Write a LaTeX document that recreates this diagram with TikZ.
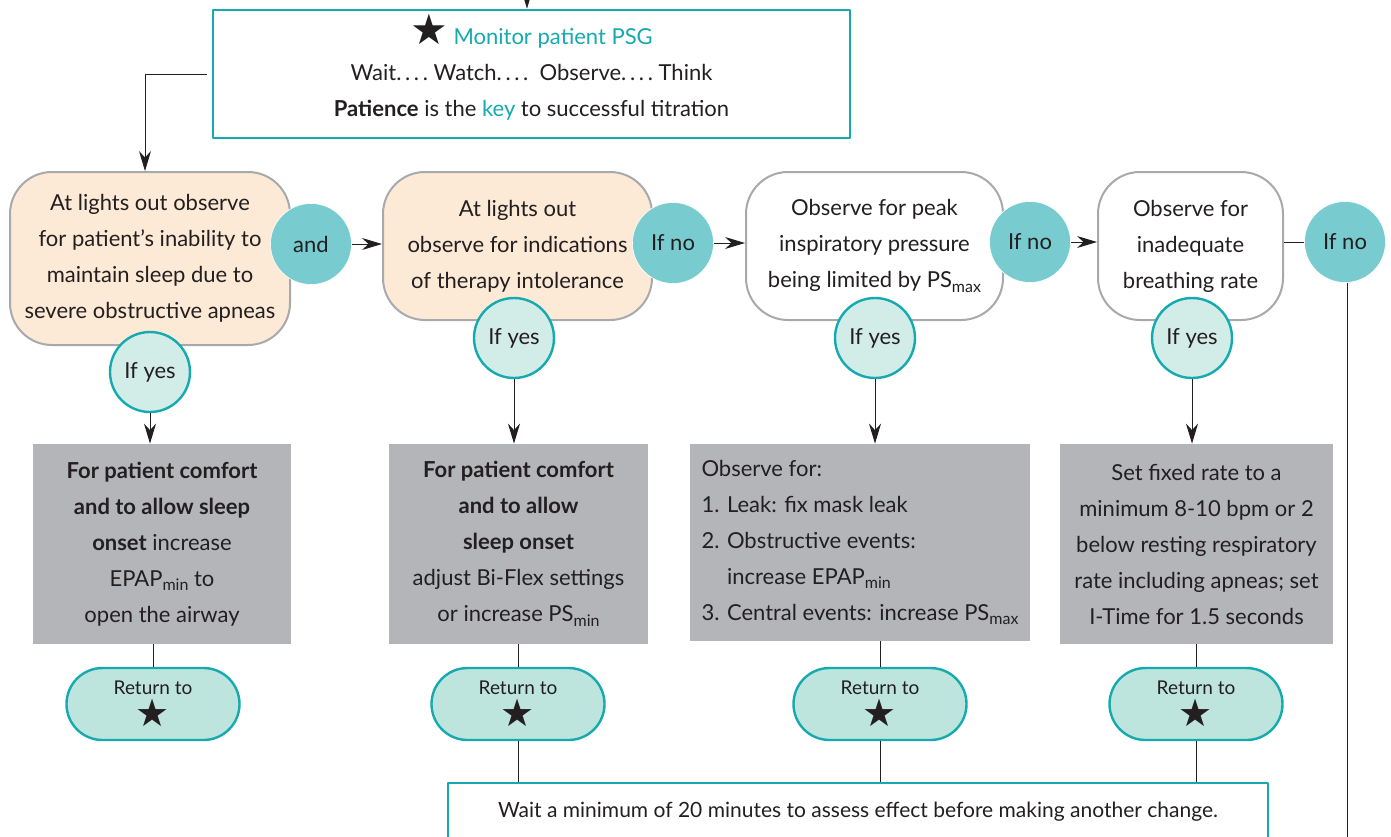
\documentclass[tikz,border=0pt]{standalone}
\usepackage{fontspec}
\setmainfont{Lato}
\newfontfamily\symfont{DejaVu Sans}
\usetikzlibrary{arrows.meta}
\definecolor{ink}{RGB}{35,31,32}
\definecolor{tealline}{RGB}{20,170,176}
\definecolor{tealfill}{RGB}{120,203,207}
\definecolor{yesfill}{RGB}{210,236,231}
\definecolor{pillfill}{RGB}{189,228,221}
\definecolor{peach}{RGB}{253,234,214}
\definecolor{boxgray}{RGB}{180,181,185}
\definecolor{edgegray}{RGB}{168,169,173}
\newcommand\lowsub[1]{\raisebox{-0.4ex}{\fontsize{8}{8}\selectfont #1}}
\newcommand\starsym[1]{{\fontsize{#1}{#1}\selectfont\symfont ★}}
\begin{document}
\begin{tikzpicture}[x=0.5pt,y=-0.5pt, line join=round, >={Stealth[length=10pt,width=6pt]}]
	\tikzset{txt/.style={font=\fontsize{11}{18}\selectfont, text=ink, align=center, inner sep=0pt},
		askbox/.style={txt, draw=edgegray, line width=1pt, rounded corners=21pt, minimum height=74pt},
		actbox/.style={txt, fill=boxgray, minimum height=100pt},
		nobubble/.style={txt, circle, fill=tealfill, draw=white, line width=0.3pt, minimum size=40.5pt},
		yesbubble/.style={txt, circle, fill=yesfill, draw=tealline, line width=1.2pt, minimum size=40pt},
		returnpill/.style={txt, font=\fontsize{9.5}{16}\selectfont, fill=pillfill, draw=tealline, line width=1.2pt, rounded corners=18pt, minimum width=86.5pt, minimum height=36pt},
		notebox/.style={txt, draw=tealline, line width=1.3pt},
		link/.style={ink, line width=0.5pt}}
	\clip (0,0) rectangle (1391,836);
	% top box
	\node[notebox, minimum width=318.5pt, minimum height=64pt] (monitor) at (531.5,74)
		{\smash{\starsym{21}}\ \textcolor{tealline}{Monitor patient PSG}\\
		Wait.\,.\,.\,.\ Watch.\,.\,.\,.\ \ Observe.\,.\,.\,.\ Think\\
		\textbf{Patience} is the \textcolor{tealline}{key} to successful titration};
	\coordinate (entry) at (527,-20);
	\draw[link,->] (entry) -- (monitor.north -| entry);
	% questions
	\node[askbox, fill=peach, minimum width=140pt, minimum height=86.5pt] (ask1) at (150,258.5)
		{At lights out observe\\ for patient’s inability to\\ maintain sleep due to\\ severe obstructive apneas};
	\node[askbox, fill=peach, minimum width=134.5pt] (ask2) at (517.5,246)
		{At lights out\\ observe for indications\\ of therapy intolerance};
	\node[askbox, fill=white, minimum width=128.5pt] (ask3) at (874.5,246)
		{Observe for peak\\ inspiratory pressure\\ being limited by PS\lowsub{max}};
	\node[askbox, fill=white, minimum width=92.5pt] (ask4) at (1190.5,246)
		{Observe for\\ inadequate\\ breathing rate};
	\draw[link,->] ([xshift=-2.5pt]monitor.west) -| ([xshift=-2.5pt]ask1.north);
	% branches
	\node[nobubble] (and) at (311,244) {and};
	\node[nobubble] (no1) at (673,243) {If no};
	\node[nobubble] (no2) at (1030,242) {If no};
	\node[nobubble] (no3) at (1345,242) {If no};
	\node[yesbubble] (yes1) at (150,372) {If yes};
	\node[yesbubble] (yes2) at (514,338) {If yes};
	\node[yesbubble] (yes3) at (875,338) {If yes};
	\node[yesbubble] (yes4) at (1192,338) {If yes};
	\draw[link,->] (and) -- (ask2.west |- and);
	\draw[link,->] (no1) -- (ask3.west |- no1);
	\draw[link,->] (no2) -- (ask4.west |- no2);
	\draw[link] (ask4.east |- no3) -- (no3);
	\coordinate (edge) at (1347,860);
	\draw[link] (no3.south -| edge) -- (edge);
	% actions
	\node[actbox, minimum width=129pt] (act1) at (162,544)
		{\textbf{For patient comfort}\\ \textbf{and to allow sleep}\\ \textbf{onset} increase\\ EPAP\lowsub{min} to\\ open the airway};
	\node[actbox, minimum width=129.5pt] (act2) at (518.5,544)
		{\textbf{For patient comfort}\\ \textbf{and to allow}\\ \textbf{sleep onset}\\ adjust Bi-Flex settings\\ or increase PS\lowsub{min}};
	\node[actbox, minimum width=170pt, minimum height=98.5pt, align=left] (act3) at (860,542.5)
		{Observe for:\\ 1. Leak: fix mask leak\\ 2. Obstructive events:\\ \phantom{2. }increase EPAP\lowsub{min}\\ 3. Central events: increase PS\lowsub{max}};
	\node[actbox, minimum width=136.5pt] (act4) at (1196.5,544)
		{Set fixed rate to a\\ minimum 8-10 bpm or 2\\ below resting respiratory\\ rate including apneas; set\\ I-Time for 1.5 seconds};
	\foreach \i in {1,...,4}
		\draw[link,->] (yes\i) -- (yes\i |- act\i.north);
	% returns
	\node[returnpill] (ret1) at (153,704) {Return to\\ \starsym{19}};
	\node[returnpill] (ret2) at (518,704) {Return to\\ \starsym{19}};
	\node[returnpill] (ret3) at (880,704) {Return to\\ \starsym{19}};
	\node[returnpill] (ret4) at (1196,704) {Return to\\ \starsym{19}};
	\foreach \i in {1,...,4}
		\draw[link] (ret\i.north |- act\i.south) -- (ret\i.north);
	% wait note
	\node[notebox, minimum width=410pt, minimum height=28.5pt, font=\fontsize{10.5}{14}\selectfont] (wait) at (858,811.5)
		{Wait a minimum of 20 minutes to assess effect before making another change.};
	\foreach \i in {2,3,4}
		\draw[link] (ret\i) -- (ret\i |- wait.north);
\end{tikzpicture}
\end{document}
